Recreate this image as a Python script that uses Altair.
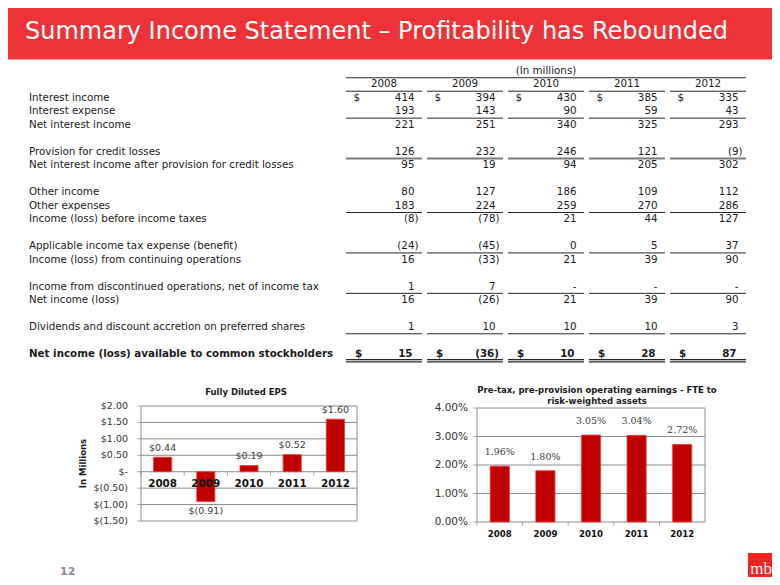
import altair as alt
import pandas as pd

# ------------------------------------------------------------------ data
slide_title = "Summary Income Statement \u2013 Profitability has Rebounded"
units_note = "(In millions)"
years = ["2008", "2009", "2010", "2011", "2012"]

line_items = [
    "Interest income",
    "Interest expense",
    "Net interest income",
    "Provision for credit losses",
    "Net interest income after provision for credit losses",
    "Other income",
    "Other expenses",
    "Income (loss) before income taxes",
    "Applicable income tax expense (benefit)",
    "Income (loss) from continuing operations",
    "Income from discontinued operations, net of income tax",
    "Net income (loss)",
    "Dividends and discount accretion on preferred shares",
    "Net income (loss) available to common stockholders",
]
# None is printed as "-"
values_2008 = [414, 193, 221, 126, 95, 80, 183, -8, -24, 16, 1, 16, 1, 15]
values_2009 = [394, 143, 251, 232, 19, 127, 224, -78, -45, -33, 7, -26, 10, -36]
values_2010 = [430, 90, 340, 246, 94, 186, 259, 21, 0, 21, None, 21, 10, 10]
values_2011 = [385, 59, 325, 121, 205, 109, 270, 44, 5, 39, None, 39, 10, 28]
values_2012 = [335, 43, 293, -9, 302, 112, 286, 127, 37, 90, None, 90, 3, 87]
year_values = dict(zip(years, [values_2008, values_2009, values_2010, values_2011, values_2012]))

# table structure
spacer_after = ["Net interest income",
                "Net interest income after provision for credit losses",
                "Income (loss) before income taxes",
                "Income (loss) from continuing operations",
                "Net income (loss)",
                "Dividends and discount accretion on preferred shares"]
underline_after = ["Interest expense", "Other expenses",
                   "Applicable income tax expense (benefit)",
                   "Income from discontinued operations, net of income tax",
                   "Dividends and discount accretion on preferred shares"]
heavy_underline_after = ["Provision for credit losses"]
double_underline_after = ["Net income (loss) available to common stockholders"]
dollar_rows = ["Interest income", "Net income (loss) available to common stockholders"]
bold_rows = ["Net income (loss) available to common stockholders"]

eps_title = "Fully Diluted EPS"
eps_axis_title = "In Millions"
eps = [0.44, -0.91, 0.19, 0.52, 1.60]
eps_ticks = [-1.5, -1.0, -0.5, 0.0, 0.5, 1.0, 1.5, 2.0]
eps_tick_labels = ["$(1.50)", "$(1.00)", "$(0.50)", "$-", "$0.50", "$1.00", "$1.50", "$2.00"]

pct_title = ["Pre-tax, pre-provision operating earnings - FTE to", "risk-weighted assets"]
pct = [0.0196, 0.0180, 0.0305, 0.0304, 0.0272]
pct_ticks = [0.0, 0.01, 0.02, 0.03, 0.04]
pct_tick_labels = ["0.00%", "1.00%", "2.00%", "3.00%", "4.00%"]

page_number = "12"
logo_text = "mb"

# ------------------------------------------------------------------ style
FONT = "DejaVu Sans"
INK = "#1a1a1a"
RULE = "#262626"
GRID = "#8c8c8c"
BAR = "#C00000"
BAR_EDGE = "#F03A3A"
HEADER_RED = "#EE3338"
LOGO_RED = "#F2231F"

# ------------------------------------------------------------------ table frames
row_of = {}
r = 2  # rows 0 and 1 hold the column headings
for item in line_items:
    row_of[item] = r
    r += 1
    if item in spacer_after:
        r += 1


def fmt(v):
    if v is None:
        return "-"
    if v < 0:
        return f"({-v})"
    return str(v)


cells = pd.DataFrame([
    dict(row=row_of[item], year=y, text=fmt(year_values[y][i]),
         neg=(year_values[y][i] is not None and year_values[y][i] < 0),
         bold=item in bold_rows)
    for i, item in enumerate(line_items) for y in years
])
labels_df = pd.DataFrame(dict(label=line_items,
                              row=[row_of[i] for i in line_items],
                              bold=[i in bold_rows for i in line_items]))
dollars_df = pd.DataFrame([dict(row=row_of[i], year=y, bold=i in bold_rows, t="$")
                           for i in dollar_rows for y in years])
years_df = pd.DataFrame(dict(year=years))
under_df = pd.DataFrame([dict(pos=1.5, year=y) for y in years] +
                        [dict(pos=row_of[i] + 0.5, year=y) for i in underline_after for y in years])
heavy_df = pd.DataFrame([dict(pos=row_of[i] + 0.5, year=y) for i in heavy_underline_after for y in years])
double_df = pd.DataFrame([dict(pos=row_of[i] + 0.5, year=y) for i in double_underline_after for y in years])
note_df = pd.DataFrame(dict(t=[units_note]))

tx = alt.Scale(domain=years, range=[338, 738], paddingInner=0.062, paddingOuter=0)
ty = alt.Scale(domain=[0, 21], range=[63, 346], nice=False, zero=False)


def tX(field="year:O", bp=None):
    kw = dict(scale=tx, axis=None)
    if bp is not None:
        kw["bandPosition"] = bp
    return alt.X(field, **kw)


def tY(field="row:Q"):
    return alt.Y(field, scale=ty, axis=None)


table_layers = []
for bold in (False, True):
    table_layers.append(
        alt.Chart(labels_df).transform_filter(f"datum.bold == {str(bold).lower()}")
        .mark_text(align="left", baseline="middle", font=FONT, fontSize=10.3, color=INK,
                   fontWeight="bold" if bold else "normal")
        .encode(x=alt.value(21), y=tY(), text="label:N"))
    for neg in (False, True):
        dx = {(False, False): -7.5, (False, True): -3.5, (True, False): -9.5, (True, True): -4}[(bold, neg)]
        table_layers.append(
            alt.Chart(cells)
            .transform_filter(f"datum.bold == {str(bold).lower()} && datum.neg == {str(neg).lower()}")
            .mark_text(align="right", baseline="middle", font=FONT, fontSize=10.3, color=INK, dx=dx,
                       fontWeight="bold" if bold else "normal")
            .encode(x=tX(bp=1), y=tY(), text="text:N"))
    table_layers.append(
        alt.Chart(dollars_df).transform_filter(f"datum.bold == {str(bold).lower()}")
        .mark_text(align="left", baseline="middle", font=FONT, fontSize=10.3, color=INK,
                   dx=9 if bold else 7.5, fontWeight="bold" if bold else "normal")
        .encode(x=tX(bp=0), y=tY(), text="t:N"))

table_layers += [
    alt.Chart(note_df).mark_text(baseline="middle", font=FONT, fontSize=10.3, color=INK)
    .encode(x=alt.XDatum(years[2], type="ordinal", scale=tx, axis=None),
            y=alt.YDatum(0, scale=ty, axis=None), text="t:N"),
    alt.Chart(note_df).mark_rule(color=RULE, strokeWidth=1)
    .encode(x=alt.XDatum(years[0], type="ordinal", bandPosition=0, scale=tx, axis=None),
            x2=alt.X2Datum(years[-1], bandPosition=1),
            y=alt.YDatum(0.5, scale=ty, axis=None)),
    alt.Chart(years_df).mark_text(baseline="middle", font=FONT, fontSize=10.3, color=INK)
    .encode(x=tX(), y=alt.YDatum(1, scale=ty, axis=None), text="year:N"),
    alt.Chart(under_df).mark_rule(color=RULE, strokeWidth=1)
    .encode(x=tX(bp=0), x2=alt.X2("year", bandPosition=1), y=tY("pos:Q")),
    alt.Chart(heavy_df).mark_rule(color="#7a7a7a", strokeWidth=2)
    .encode(x=tX(bp=0), x2=alt.X2("year", bandPosition=1), y=tY("pos:Q")),
    alt.Chart(double_df).mark_rule(color=RULE, strokeWidth=3.6)
    .encode(x=tX(bp=0), x2=alt.X2("year", bandPosition=1), y=tY("pos:Q")),
    alt.Chart(double_df).mark_rule(color="white", strokeWidth=1.2)
    .encode(x=tX(bp=0), x2=alt.X2("year", bandPosition=1), y=tY("pos:Q")),
]
table = alt.layer(*table_layers)

# ------------------------------------------------------------------ header
hdr_df = pd.DataFrame(dict(t=[slide_title]))
header = alt.layer(
    alt.Chart(hdr_df).mark_rect(color=HEADER_RED)
    .encode(x=alt.value(0), x2=alt.value(764), y=alt.value(0), y2=alt.value(51.5)),
    alt.Chart(hdr_df).mark_text(align="left", baseline="alphabetic", font=FONT, fontSize=24, color="white")
    .encode(x=alt.value(17), y=alt.value(30.5), text="t:N"),
)


# ------------------------------------------------------------------ bar chart helper
def bar_panel(values, ticks, tick_labels, xs, ys, label_expr, label_font, label_size, label_gap,
              tick_font_size, tick_dx, year_size, year_dy, year_at_zero):
    vdf = pd.DataFrame(dict(year=years, v=values))
    gdf = pd.DataFrame(dict(v=ticks, label=tick_labels))
    one = pd.DataFrame(dict(k=[0]))
    X = lambda f="year:O", bp=None: alt.X(f, scale=xs, axis=None, **({} if bp is None else {"bandPosition": bp}))
    Y = lambda f="v:Q": alt.Y(f, scale=ys, axis=None)
    XD = lambda d, bp: alt.XDatum(d, type="ordinal", bandPosition=bp, scale=xs, axis=None)
    YD = lambda d: alt.YDatum(d, scale=ys, axis=None)
    layers = [
        alt.Chart(gdf).mark_rule(color=GRID, strokeWidth=1)
        .encode(x=XD(years[0], 0), x2=alt.X2Datum(years[-1], bandPosition=1), y=Y()),
        alt.Chart(one).mark_rule(color=GRID, strokeWidth=1)
        .encode(x=XD(years[0], 0), y=YD(ticks[0]), y2=alt.Y2Datum(ticks[-1])),
        alt.Chart(one).mark_rule(color=GRID, strokeWidth=1)
        .encode(x=XD(years[-1], 1), y=YD(ticks[0]), y2=alt.Y2Datum(ticks[-1])),
        alt.Chart(gdf).mark_tick(orient="horizontal", size=4, thickness=1, color=GRID)
        .encode(x=XD(years[0], 0), xOffset=alt.value(-2), y=Y()),
        alt.Chart(vdf).mark_tick(orient="vertical", size=4, thickness=1, color=GRID)
        .encode(x=X(bp=0), y=YD(0), yOffset=alt.value(2)),
        alt.Chart(gdf).mark_text(align="right", baseline="middle", font=FONT, fontSize=tick_font_size,
                                 color="#333333", dx=tick_dx)
        .encode(x=XD(years[0], 0), y=Y(), text="label:N"),
        alt.Chart(vdf).mark_bar(width={"band": 0.42}, color=BAR, stroke=BAR_EDGE, strokeWidth=0.8)
        .encode(x=X(), y=Y()),
        alt.Chart(vdf).mark_text(baseline="middle", font=FONT, fontSize=year_size, fontWeight="bold",
                                 color="#111111", dy=year_dy)
        .encode(x=X(), y=YD(0) if year_at_zero else YD(ticks[0]), text="year:N"),
    ]
    for sign, gap in ((">= 0", -label_gap), ("< 0", label_gap)):
        layers.append(
            alt.Chart(vdf).transform_filter(f"datum.v {sign}")
            .transform_calculate(label=label_expr)
            .mark_text(baseline="middle", font=label_font, fontSize=label_size, color="#3a3a3a", dy=gap)
            .encode(x=X(), y=Y(), text="label:N"))
    return layers


eps_x = alt.Scale(domain=years, range=[133, 349], paddingInner=0, paddingOuter=0)
eps_y = alt.Scale(domain=[eps_ticks[0], eps_ticks[-1]], range=[513, 398], nice=False)
eps_labels = ["$-\u00a0\u00a0" if t == "$-" else t for t in eps_tick_labels]
eps_layers = bar_panel(
    eps, eps_ticks, eps_labels, eps_x, eps_y,
    "datum.v < 0 ? '$(' + format(-datum.v, '.2f') + ')' : '$' + format(datum.v, '.2f')",
    FONT, 9.5, 9.5, 9.5, -13, 10.4, 12.6, True)
eps_layers += [
    alt.Chart(pd.DataFrame(dict(t=[eps_title]))).mark_text(
        baseline="middle", font=FONT, fontSize=8.5, fontWeight="bold", color=INK)
    .encode(x=alt.value(238), y=alt.value(384.3), text="t:N"),
    alt.Chart(pd.DataFrame(dict(t=[eps_axis_title]))).mark_text(
        baseline="middle", font=FONT, fontSize=8.5, fontWeight="bold", color=INK, angle=270)
    .encode(x=alt.value(75.3),
            y=alt.YDatum((eps_ticks[0] + eps_ticks[-1]) / 2, scale=eps_y, axis=None), text="t:N"),
]
eps_chart = alt.layer(*eps_layers)

pct_x = alt.Scale(domain=years, range=[469, 697], paddingInner=0, paddingOuter=0)
pct_y = alt.Scale(domain=[pct_ticks[0], pct_ticks[-1]], range=[514, 400], nice=False)
pct_layers = bar_panel(
    pct, pct_ticks, pct_tick_labels, pct_x, pct_y,
    "format(datum.v, '.2%')",
    "DejaVu Serif", 9.5, 14, 10.5, -9, 8.6, 12.3, True)
pct_layers += [
    alt.Chart(pd.DataFrame(dict(k=[0]))).mark_text(
        baseline="middle", font=FONT, fontSize=8.5, fontWeight="bold", color=INK, lineHeight=10.7)
    .encode(x=alt.value(589), y=alt.value(382), text=alt.value(pct_title)),
]
pct_chart = alt.layer(*pct_layers)

# ------------------------------------------------------------------ footer
ft = pd.DataFrame(dict(p=[page_number], m=[logo_text]))
footer = alt.layer(
    alt.Chart(ft).mark_text(align="left", baseline="middle", font=FONT, fontSize=11,
                            fontWeight="bold", color="#8a8a8a")
    .encode(x=alt.value(52), y=alt.value(563.7), text="p:N"),
    alt.Chart(ft).mark_rect(color=LOGO_RED)
    .encode(x=alt.value(740), x2=alt.value(764), y=alt.value(545), y2=alt.value(569)),
    alt.Chart(ft).mark_text(align="left", baseline="alphabetic", font="Liberation Serif", fontSize=17,
                            color="white")
    .encode(x=alt.value(742.3), y=alt.value(565.5), text="m:N"),
)

chart = (
    alt.layer(header, table, eps_chart, pct_chart, footer)
    .resolve_scale(x="independent", y="independent")
    .properties(width=764, height=569, padding=0, autosize=alt.AutoSizeParams(type="none"))
    .configure_view(stroke=None)
)

chart.save("out.html", embed_options={"renderer": "svg", "actions": False})
